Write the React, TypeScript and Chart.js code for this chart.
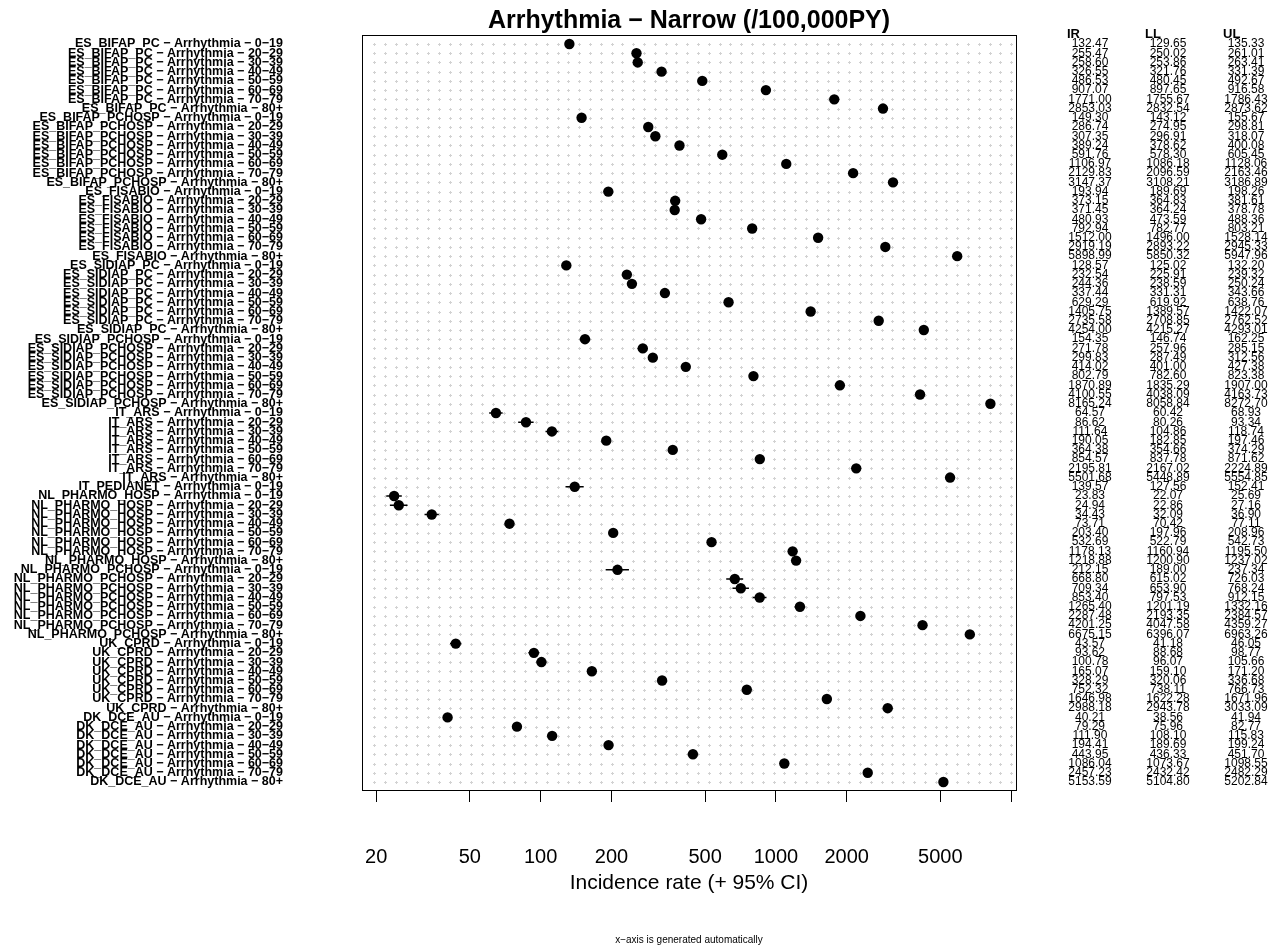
import { useEffect, useRef } from 'react';
import { Chart, registerables } from 'chart.js';

Chart.register(...registerables);

const FONT = "'Liberation Sans', Arial, Helvetica, sans-serif";

const chartTitle = 'Arrhythmia \u2212 Narrow (/100,000PY)';
const axisTitle = 'Incidence rate (+ 95% CI)';
const footNote = 'x\u2212axis is generated automatically';
const outcome = 'Arrhythmia';

const ageBands = ['0\u221219', '20\u221229', '30\u221239', '40\u221249', '50\u221259', '60\u221269', '70\u221279', '80+'];

const databases = [
  'ES_BIFAP_PC',
  'ES_BIFAP_PCHOSP',
  'ES_FISABIO',
  'ES_SIDIAP_PC',
  'ES_SIDIAP_PCHOSP',
  'IT_ARS',
  'IT_PEDIANET',
  'NL_PHARMO_HOSP',
  'NL_PHARMO_PCHOSP',
  'UK_CPRD',
  'DK_DCE_AU',
];
// number of age bands reported by each database (IT_PEDIANET only covers 0-19)
const bandsPerDatabase = [8, 8, 8, 8, 8, 8, 1, 8, 8, 8, 8];

// incidence rate per 100,000 person-years, one value per row
const incidenceRate = [
  132.47, 255.47, 258.6, 326.55, 486.53, 907.07, 1771.0, 2853.03,
  149.3, 286.74, 307.35, 389.24, 591.76, 1106.97, 2129.83, 3147.37,
  193.94, 373.15, 371.45, 480.93, 792.94, 1512.0, 2919.19, 5898.99,
  128.57, 232.54, 244.36, 337.44, 629.29, 1405.75, 2735.58, 4254.0,
  154.35, 271.78, 299.83, 414.02, 802.79, 1870.89, 4100.55, 8165.24,
  64.57, 86.62, 111.64, 190.05, 364.38, 854.57, 2195.81, 5501.68,
  139.57,
  23.83, 24.94, 34.43, 73.71, 203.4, 532.69, 1178.13, 1218.88,
  212.15, 668.8, 709.34, 853.4, 1265.4, 2287.48, 4201.25, 6675.15,
  43.57, 93.62, 100.78, 165.07, 328.29, 752.32, 1646.98, 2988.18,
  40.21, 79.29, 111.9, 194.41, 443.95, 1086.04, 2457.23, 5153.59,
];

// lower 95% confidence limit
const lowerLimit = [
  129.65, 250.02, 253.86, 321.76, 480.45, 897.65, 1755.67, 2832.54,
  143.12, 274.95, 296.91, 378.62, 578.3, 1086.18, 2096.59, 3108.21,
  189.69, 364.83, 364.24, 473.59, 782.77, 1496.0, 2893.22, 5850.32,
  125.02, 225.91, 238.59, 331.31, 619.92, 1389.57, 2708.85, 4215.27,
  146.74, 257.96, 287.49, 401.0, 782.6, 1835.29, 4038.09, 8058.84,
  60.42, 80.26, 104.86, 182.85, 354.66, 837.78, 2167.02, 5448.89,
  127.56,
  22.07, 22.86, 32.09, 70.42, 197.96, 522.79, 1160.94, 1200.9,
  189.0, 615.02, 653.9, 797.53, 1201.19, 2193.35, 4047.58, 6396.07,
  41.18, 88.68, 96.07, 159.1, 320.06, 738.11, 1622.28, 2943.78,
  38.56, 75.96, 108.1, 189.69, 436.33, 1073.67, 2432.42, 5104.8,
];

// upper 95% confidence limit
const upperLimit = [
  135.33, 261.01, 263.41, 331.39, 492.67, 916.58, 1786.43, 2873.62,
  155.67, 298.81, 318.07, 400.08, 605.45, 1128.06, 2163.46, 3186.89,
  198.26, 381.61, 378.78, 488.36, 803.21, 1528.14, 2945.33, 5947.96,
  132.2, 239.32, 250.24, 343.66, 638.76, 1422.07, 2762.52, 4293.01,
  162.25, 285.15, 312.56, 427.38, 823.38, 1907.0, 4163.73, 8272.7,
  68.93, 93.34, 118.74, 197.46, 374.29, 871.62, 2224.89, 5554.85,
  152.41,
  25.69, 27.16, 36.9, 77.11, 208.96, 542.73, 1195.5, 1237.02,
  237.34, 726.03, 768.24, 912.15, 1332.16, 2384.57, 4359.27, 6963.26,
  46.05, 98.77, 105.66, 171.2, 336.68, 766.73, 1671.96, 3033.09,
  41.94, 82.77, 115.83, 199.24, 451.7, 1098.55, 2482.29, 5202.84,
];

const xTickValues = [20, 50, 100, 200, 500, 1000, 2000, 5000, 10000];
const xTickLabels = ['20', '50', '100', '200', '500', '1000', '2000', '5000', ''];
const tableHeaders = ['IR', 'LL', 'UL'];

const rowLabels = databases.flatMap((db, d) =>
  ageBands.slice(0, bandsPerDatabase[d]).map((band) => `${db} \u2212 ${outcome} \u2212 ${band}`)
);

// one segment per row from the lower to the upper limit, separated by gaps
const ciSegments = rowLabels.flatMap((_, i) => [
  { x: lowerLimit[i], y: i },
  { x: upperLimit[i], y: i },
  { x: NaN, y: NaN },
]);

// layout (pixels)
const CANVAS_W = 1275;
const CANVAS_H = 947;
const PLOT_LEFT = 362;
const PLOT_RIGHT = 1016;
const PLOT_TOP = 35;
const PLOT_BOTTOM = 790;
const ROW_PAD_TOP = 0.975;
const ROW_PAD_BOTTOM = 0.87;
const TABLE_VALUE_X = [1090, 1168, 1246];
const TABLE_HEADER_X = [1067, 1145, 1223];

const backdropPlugin = {
  id: 'backdrop',
  beforeDatasetsDraw(chart: any) {
    const { ctx, chartArea: a } = chart;
    const yScale = chart.scales.y;
    ctx.save();
    ctx.fillStyle = '#d2d2d2';
    for (let i = 0; i < rowLabels.length; i++) {
      const py = Math.round(yScale.getPixelForValue(i));
      for (let px = a.left + 12; px < a.right - 3; px += 10.8) {
        const rx = Math.round(px);
        ctx.fillRect(rx - 1, py, 3, 1);
        ctx.fillRect(rx, py - 1, 1, 3);
      }
    }
    ctx.strokeStyle = '#000';
    ctx.lineWidth = 1;
    ctx.strokeRect(
      Math.round(a.left) + 0.5,
      Math.round(a.top) + 0.5,
      Math.round(a.right - a.left),
      Math.round(a.bottom - a.top)
    );
    ctx.restore();
  },
};

const textPlugin = {
  id: 'texts',
  afterDraw(chart: any) {
    const { ctx, chartArea: a } = chart;
    const yScale = chart.scales.y;
    const cx = (a.left + a.right) / 2;
    ctx.save();
    ctx.fillStyle = '#000';
    ctx.textBaseline = 'middle';

    ctx.textAlign = 'center';
    ctx.font = `bold 25px ${FONT}`;
    ctx.fillText(chartTitle, cx, 21);

    ctx.font = `10px ${FONT}`;
    ctx.fillText(footNote, cx, 940);

    ctx.textAlign = 'left';
    ctx.font = `bold 13px ${FONT}`;
    tableHeaders.forEach((h, k) => ctx.fillText(h, TABLE_HEADER_X[k], 34));

    ctx.textAlign = 'center';
    ctx.font = `12px ${FONT}`;
    const columns = [incidenceRate, lowerLimit, upperLimit];
    for (let i = 0; i < rowLabels.length; i++) {
      const py = yScale.getPixelForValue(i);
      columns.forEach((col, k) => ctx.fillText(col[i].toFixed(2), TABLE_VALUE_X[k], py));
    }
    ctx.restore();
  },
};

export default function App() {
  const canvasRef = useRef<HTMLCanvasElement>(null);

  useEffect(() => {
    const canvas = canvasRef.current;
    if (!canvas) return;
    const lastRow = rowLabels.length - 1;

    const chart = new Chart(canvas, {
      type: 'scatter',
      data: {
        datasets: [
          {
            label: 'IR',
            data: incidenceRate.map((v, i) => ({ x: v, y: i })),
            pointRadius: 5.2,
            pointHoverRadius: 5.2,
            backgroundColor: '#000',
            borderColor: '#000',
            borderWidth: 0,
            order: 0,
          },
          {
            type: 'line',
            label: '95% CI',
            data: ciSegments,
            showLine: true,
            spanGaps: false,
            borderColor: '#000',
            borderWidth: 1.5,
            pointRadius: 0,
            fill: false,
            order: 1,
          } as any,
        ],
      },
      options: {
        responsive: false,
        animation: false,
        devicePixelRatio: 1,
        layout: {
          padding: { top: PLOT_TOP, right: CANVAS_W - PLOT_RIGHT, bottom: 0, left: 0 },
        },
        plugins: {
          legend: { display: false },
          tooltip: { enabled: false },
          title: { display: false },
        },
        scales: {
          x: {
            type: 'logarithmic',
            min: 17.4,
            max: 10490,
            bounds: 'data',
            afterBuildTicks: (s: any) => {
              s.ticks = xTickValues.map((v) => ({ value: v }));
            },
            afterFit: (s: any) => {
              s.height = CANVAS_H - PLOT_BOTTOM;
              s.paddingLeft = 0;
              s.paddingRight = 0;
            },
            ticks: {
              autoSkip: false,
              maxRotation: 0,
              padding: 43,
              color: '#000',
              font: { family: FONT, size: 20 },
              callback: (_v: any, index: number) => xTickLabels[index] ?? '',
            },
            grid: {
              drawOnChartArea: false,
              drawTicks: true,
              tickLength: 12,
              color: '#000',
              lineWidth: 1,
            },
            border: { display: false },
            title: {
              display: true,
              text: axisTitle,
              color: '#000',
              font: { family: FONT, size: 21 },
              padding: { top: 0, bottom: 51 },
            },
          },
          y: {
            type: 'linear',
            reverse: true,
            min: -ROW_PAD_TOP,
            max: lastRow + ROW_PAD_BOTTOM,
            bounds: 'data',
            afterBuildTicks: (s: any) => {
              s.ticks = rowLabels.map((_, i) => ({ value: i }));
            },
            afterFit: (s: any) => {
              s.width = PLOT_LEFT;
              s.paddingTop = 0;
              s.paddingBottom = 0;
            },
            ticks: {
              autoSkip: false,
              padding: 79,
              color: '#000',
              font: { family: FONT, size: 12.5, weight: 'bold' },
              callback: (v: any) => rowLabels[Number(v)] ?? '',
            },
            grid: { display: false, drawTicks: false, tickLength: 0 },
            border: { display: false },
          },
        },
      } as any,
      plugins: [backdropPlugin, textPlugin],
    });

    return () => chart.destroy();
  }, []);

  return (
    <div
      style={{
        position: 'fixed',
        left: 0,
        top: 0,
        width: CANVAS_W,
        height: CANVAS_H,
        background: '#fff',
      }}
    >
      <canvas
        ref={canvasRef}
        width={CANVAS_W}
        height={CANVAS_H}
        style={{ width: CANVAS_W, height: CANVAS_H, display: 'block' }}
      />
    </div>
  );
}
